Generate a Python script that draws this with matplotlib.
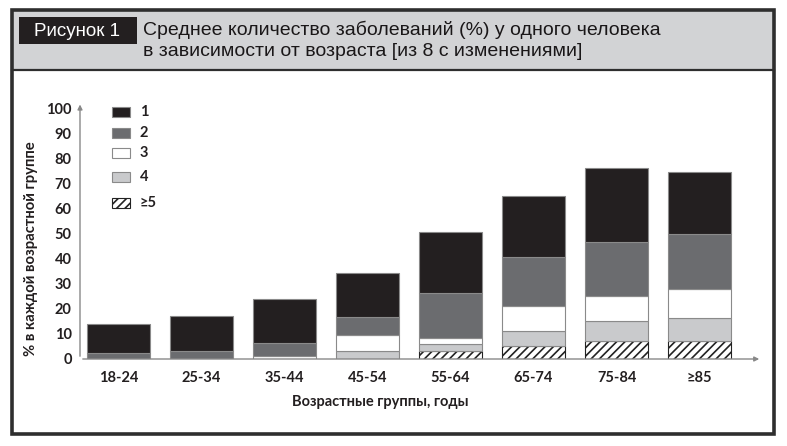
import matplotlib
matplotlib.use("Agg")
import matplotlib.pyplot as plt
from matplotlib.patches import Rectangle
import numpy as np

categories = ["18-24", "25-34", "35-44", "45-54", "55-64", "65-74", "75-84", "≥85"]
series_labels = ["1", "2", "3", "4", "≥5"]
# values per series (% in each age group), stacked from bottom: ≥5, 4, 3, 2, 1
v_ge5 = [0, 0, 0, 0, 3.0, 5.2, 7.2, 7.2]
v_4 = [0, 0, 0, 3.0, 3.0, 6.0, 8.1, 9.0]
v_3 = [0, 0, 1.0, 6.5, 2.5, 10.0, 9.8, 11.8]
v_2 = [2.5, 3.0, 5.5, 7.2, 17.7, 19.3, 21.6, 21.7]
v_1 = [11.5, 14.0, 17.5, 17.4, 24.3, 24.5, 29.3, 24.8]
y_ticks = [0, 10, 20, 30, 40, 50, 60, 70, 80, 90, 100]

title_tag = "Рисунок 1"
title_lines = ["Среднее количество заболеваний (%) у одного человека",
               "в зависимости от возраста [из 8 с изменениями]"]
y_label = "% в каждой возрастной группе"
x_label = "Возрастные группы, годы"

W, H = 787, 446
fig = plt.figure(figsize=(W / 100, H / 100), dpi=100)
fig.patch.set_facecolor("white")

def fx(px):
    return px / W

def fy(py):
    return 1 - py / H

# Header band and frame
fig.patches.append(Rectangle((fx(12), fy(70)), fx(762), fy(10) - fy(70), transform=fig.transFigure,
                             facecolor="#d2d3d5", edgecolor="none", zorder=0))
fig.patches.append(Rectangle((fx(12), fy(434)), fx(762), fy(10) - fy(434), transform=fig.transFigure,
                             facecolor="none", edgecolor="#2e2e2e", linewidth=2.6, zorder=5))
fig.add_artist(plt.Line2D([fx(12), fx(774)], [fy(70), fy(70)], transform=fig.transFigure,
                          color="#2e2e2e", linewidth=1.6))
fig.patches.append(Rectangle((fx(19), fy(44)), fx(118), fy(17) - fy(44), transform=fig.transFigure,
                             facecolor="#231f20", edgecolor="none", zorder=1))
head_font = ["Liberation Sans", "DejaVu Sans"]
fig.text(fx(77), fy(31), title_tag, color="white", fontsize=13.5, ha="center", va="center",
         family=head_font)
fig.text(fx(143), fy(30), title_lines[0], color="#1a1718", fontsize=14, ha="left", va="center",
         family=head_font)
fig.text(fx(143), fy(51), title_lines[1], color="#1a1718", fontsize=14, ha="left", va="center",
         family=head_font)

# Axes
ax = fig.add_axes([fx(80), fy(359), fx(762) - fx(80), fy(108) - fy(359)])
ax.set_xlim(-0.46, 7.75)
ax.set_ylim(0, 100)
for s in ax.spines.values():
    s.set_visible(False)
ax.set_facecolor("none")

x = np.arange(len(categories))
width = 0.76
edge = "#8a8a8a"
stack = [(v_ge5, "white", "////"), (v_4, "#c9cacc", None), (v_3, "white", None),
         (v_2, "#6b6c6f", None), (v_1, "#231f20", None)]
bottom = np.zeros(len(categories))
plt.rcParams["hatch.linewidth"] = 1.2
for vals, col, hatch in stack:
    vals = np.array(vals, dtype=float)
    ax.bar(x, vals, width, bottom=bottom, color=col, edgecolor=edge if hatch is None else "#222222",
           linewidth=0.8, hatch=hatch, zorder=2)
    bottom += vals

# axis lines with arrows
ax.annotate("", xy=(0, 1.025), xytext=(0, 0), xycoords="axes fraction",
            arrowprops=dict(arrowstyle="-|>", color="#888888", lw=1.0, mutation_scale=7))
ax.annotate("", xy=(1.0, 0), xytext=(0, 0), xycoords="axes fraction",
            arrowprops=dict(arrowstyle="-|>", color="#888888", lw=1.0, mutation_scale=7))

tick_font = ["Lato", "DejaVu Sans"]
ax.set_yticks(y_ticks)
ax.set_yticklabels([str(t) for t in y_ticks], fontsize=10.5, fontweight="bold", family=tick_font,
                   color="#231f20")
ax.tick_params(axis="y", length=0, pad=6)
ax.set_xticks(x)
ax.set_xticklabels(categories, fontsize=10.5, fontweight="bold", family=tick_font, color="#231f20")
ax.tick_params(axis="x", length=0, pad=9)
ax.set_ylabel(y_label, fontsize=10.7, fontweight="bold", family=tick_font, color="#231f20")
ax.yaxis.set_label_coords((31 - 80) / (762 - 80), (359 - 249) / (359 - 108))
ax.yaxis.label.set_va("center")
ax.set_xlabel(x_label, fontsize=10.5, fontweight="bold", family=tick_font, color="#231f20")
ax.xaxis.set_label_coords((380 - 80) / (762 - 80), -(402 - 359) / (359 - 108))
ax.xaxis.label.set_va("center")

# Legend (manual)
leg_y = [112, 133, 153, 177, 203]
leg_style = [("#231f20", None), ("#6b6c6f", None), ("white", None), ("#c9cacc", None), ("white", "////")]
for lab, yy, (col, hatch) in zip(series_labels, leg_y, leg_style):
    fig.patches.append(Rectangle((fx(112), fy(yy + 5)), fx(18), fy(yy - 5) - fy(yy + 5),
                                 transform=fig.transFigure, facecolor=col,
                                 edgecolor="#8a8a8a" if hatch is None else "#222222",
                                 linewidth=0.8, hatch=hatch, zorder=3))
    fig.text(fx(140), fy(yy), lab, fontsize=10.5, fontweight="bold", family=tick_font,
             ha="left", va="center", color="#231f20")

fig.savefig("out.png", dpi=100)
